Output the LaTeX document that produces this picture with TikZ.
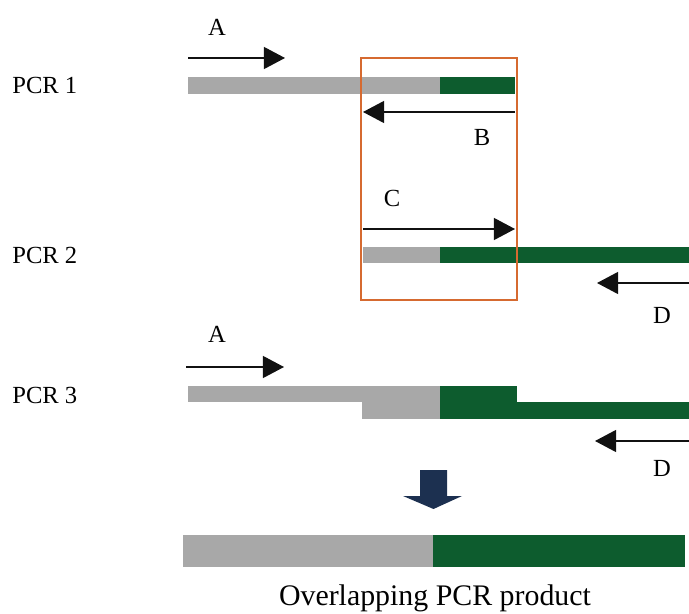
\documentclass[tikz,border=0pt]{standalone}
\usepackage{fontspec}
\setmainfont{Liberation Serif}
\usetikzlibrary{arrows.meta}
\definecolor{Strand}{HTML}{A8A8A8}
\definecolor{Insert}{HTML}{0D5C2E}
\definecolor{Frame}{HTML}{D66A30}
\definecolor{Navy}{HTML}{1C3050}
\definecolor{Ink}{HTML}{111111}

\begin{document}
\begin{tikzpicture}[x=0.02cm,y=-0.02cm,font=\fontsize{14}{16}\selectfont,primer/.style={draw=Ink,line width=0.9pt,-{Triangle[length=12pt,width=12.5pt]}},rowlabel/.style={anchor=west,inner sep=0pt},letter/.style={inner sep=0pt}]
\useasboundingbox (0,0) rectangle (689,614);
\node[rowlabel] (pcr1) at (12,85) {PCR 1};
\node[rowlabel] (pcr2) at (12,255) {PCR 2};
\node[rowlabel] (pcr3) at (12,395) {PCR 3};
\fill[Strand] (188,77) rectangle (440,94);
\fill[Insert] (440,77) rectangle (515,94);
\fill[Strand] (363,247) rectangle (440,263);
\fill[Insert] (440,247) rectangle (689,263);
\fill[Strand] (188,386) rectangle (440,402);
\fill[Strand] (362,402) rectangle (440,419);
\fill[Insert] (440,386) rectangle (517,419);
\fill[Insert] (517,402) rectangle (689,419);
\fill[Strand] (183,535) rectangle (433,567);
\fill[Insert] (433,535) rectangle (685,567);
\draw[Frame,line width=1.3pt] (361,58) rectangle (517,300);
\coordinate (a1s) at (188,58); \coordinate (a1e) at (285,58);
\coordinate (b1s) at (515,112); \coordinate (b1e) at (363,112);
\coordinate (c2s) at (363,229); \coordinate (c2e) at (515,229);
\coordinate (d2s) at (689,283); \coordinate (d2e) at (597,283);
\coordinate (a3s) at (186,367); \coordinate (a3e) at (284,367);
\coordinate (d3s) at (689,441); \coordinate (d3e) at (595,441);
\draw[primer] (a1s)--(a1e);
\draw[primer] (b1s)--(b1e);
\draw[primer] (c2s)--(c2e);
\draw[primer] (d2s)--(d2e);
\draw[primer] (a3s)--(a3e);
\draw[primer] (d3s)--(d3e);
\node[letter] (la1) at (217,27) {A};
\node[letter] (lb1) at (482,137) {B};
\node[letter] (lc2) at (392,198) {C};
\node[letter] (ld2) at (662,315) {D};
\node[letter] (la3) at (217,334) {A};
\node[letter] (ld3) at (662,468) {D};
\fill[Navy] (420,470)--(447,470)--(447,496)--(462,496)--(433.5,509)--(403,496)--(420,496)--cycle;
\node (product) at (435,598) {\fontsize{17}{20}\selectfont Overlapping PCR product};
\end{tikzpicture}
\end{document}
